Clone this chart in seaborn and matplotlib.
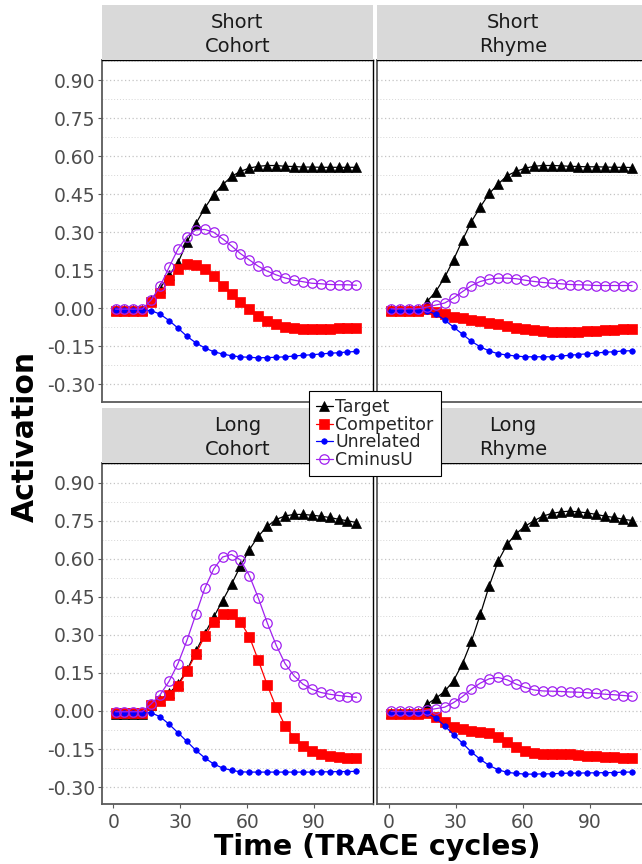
import matplotlib
matplotlib.use("Agg")
import matplotlib.pyplot as plt
import seaborn as sns
import pandas as pd
from matplotlib.ticker import MultipleLocator, FixedLocator, FormatStrFormatter
from matplotlib.lines import Line2D

# ---------------- data ----------------
time = [1, 5, 9, 13, 17, 21, 25, 29, 33, 37, 41, 45, 49, 53,
        57, 61, 65, 69, 73, 77, 81, 85, 89, 93, 97, 101, 105, 109]

panels = ["Short\nCohort", "Short\nRhyme", "Long\nCohort", "Long\nRhyme"]
series = ["Target", "Competitor", "Unrelated", "CminusU"]

short_cohort_target = [-0.008, -0.008, -0.008, -0.008, 0.033, 0.08, 0.13, 0.18, 0.26, 0.334,
                       0.395, 0.448, 0.487, 0.52, 0.54, 0.553, 0.56, 0.563, 0.563, 0.56,
                       0.559, 0.557, 0.557, 0.556, 0.556, 0.556, 0.556, 0.556]
short_cohort_competitor = [-0.01, -0.01, -0.01, -0.01, 0.024, 0.062, 0.11, 0.155, 0.175, 0.17,
                           0.155, 0.126, 0.09, 0.058, 0.024, -0.004, -0.029, -0.049, -0.062, -0.072,
                           -0.079, -0.083, -0.083, -0.083, -0.083, -0.079, -0.079, -0.079]
short_cohort_unrelated = [-0.007, -0.007, -0.007, -0.007, -0.009, -0.023, -0.048, -0.078, -0.11, -0.136,
                          -0.156, -0.171, -0.18, -0.187, -0.191, -0.193, -0.195, -0.194, -0.193, -0.191,
                          -0.188, -0.185, -0.183, -0.18, -0.177, -0.175, -0.172, -0.17]
short_cohort_cminusu = [-0.003, -0.003, -0.003, -0.003, 0.033, 0.087, 0.162, 0.234, 0.283, 0.309,
                        0.311, 0.3, 0.274, 0.246, 0.216, 0.191, 0.166, 0.147, 0.132, 0.12,
                        0.111, 0.105, 0.099, 0.097, 0.094, 0.093, 0.093, 0.091]

short_rhyme_target = [-0.008, -0.008, -0.008, -0.008, 0.026, 0.066, 0.122, 0.192, 0.269, 0.342,
                      0.4, 0.453, 0.49, 0.523, 0.54, 0.552, 0.56, 0.563, 0.563, 0.562,
                      0.56, 0.559, 0.558, 0.558, 0.557, 0.556, 0.556, 0.555]
short_rhyme_competitor = [-0.01, -0.01, -0.01, -0.01, -0.003, -0.013, -0.024, -0.034, -0.037, -0.046,
                          -0.05, -0.057, -0.062, -0.069, -0.077, -0.082, -0.085, -0.089, -0.093, -0.093,
                          -0.093, -0.093, -0.089, -0.089, -0.085, -0.085, -0.081, -0.081]
short_rhyme_unrelated = [-0.009, -0.009, -0.009, -0.009, -0.009, -0.023, -0.046, -0.074, -0.102, -0.13,
                         -0.152, -0.168, -0.179, -0.184, -0.188, -0.191, -0.191, -0.191, -0.191, -0.188,
                         -0.185, -0.182, -0.179, -0.176, -0.173, -0.171, -0.168, -0.167]
short_rhyme_cminusu = [-0.002, -0.002, -0.002, -0.002, 0.005, 0.013, 0.021, 0.041, 0.066, 0.09,
                       0.106, 0.115, 0.119, 0.119, 0.117, 0.111, 0.106, 0.102, 0.099, 0.097,
                       0.094, 0.093, 0.092, 0.09, 0.09, 0.09, 0.09, 0.09]

long_cohort_target = [-0.01, -0.01, -0.01, -0.01, 0.025, 0.045, 0.07, 0.105, 0.16, 0.235,
                      0.305, 0.37, 0.435, 0.5, 0.571, 0.636, 0.689, 0.728, 0.755, 0.769,
                      0.775, 0.775, 0.772, 0.768, 0.763, 0.756, 0.75, 0.743]
long_cohort_competitor = [-0.009, -0.009, -0.009, -0.009, 0.024, 0.041, 0.064, 0.099, 0.156, 0.225,
                          0.295, 0.352, 0.384, 0.384, 0.352, 0.293, 0.2, 0.103, 0.015, -0.058,
                          -0.105, -0.138, -0.156, -0.168, -0.177, -0.181, -0.185, -0.185]
long_cohort_unrelated = [-0.007, -0.007, -0.007, -0.007, -0.007, -0.023, -0.052, -0.086, -0.12, -0.155,
                         -0.185, -0.209, -0.225, -0.234, -0.24, -0.241, -0.241, -0.241, -0.241, -0.241,
                         -0.241, -0.241, -0.241, -0.24, -0.24, -0.239, -0.239, -0.238]
long_cohort_cminusu = [-0.003, -0.003, -0.003, -0.003, 0.028, 0.064, 0.117, 0.187, 0.278, 0.381,
                       0.483, 0.56, 0.607, 0.617, 0.596, 0.534, 0.446, 0.348, 0.26, 0.187,
                       0.139, 0.106, 0.086, 0.073, 0.066, 0.061, 0.057, 0.054]

long_rhyme_target = [-0.009, -0.009, -0.009, -0.009, 0.026, 0.05, 0.077, 0.12, 0.187, 0.275,
                     0.381, 0.494, 0.591, 0.657, 0.699, 0.728, 0.75, 0.768, 0.779, 0.785,
                     0.788, 0.785, 0.781, 0.775, 0.768, 0.763, 0.756, 0.751]
long_rhyme_competitor = [-0.012, -0.012, -0.012, -0.012, -0.007, -0.023, -0.045, -0.062, -0.073, -0.078,
                         -0.082, -0.086, -0.101, -0.122, -0.143, -0.159, -0.166, -0.17, -0.17, -0.17,
                         -0.17, -0.173, -0.177, -0.177, -0.181, -0.181, -0.185, -0.185]
long_rhyme_unrelated = [-0.009, -0.009, -0.009, -0.009, -0.007, -0.028, -0.058, -0.094, -0.127, -0.162,
                        -0.191, -0.215, -0.232, -0.242, -0.246, -0.249, -0.249, -0.248, -0.248, -0.246,
                        -0.245, -0.245, -0.244, -0.244, -0.243, -0.243, -0.241, -0.241]
long_rhyme_cminusu = [-0.002, -0.002, -0.002, -0.002, 0.003, 0.009, 0.015, 0.033, 0.057, 0.086,
                      0.11, 0.127, 0.132, 0.123, 0.106, 0.093, 0.083, 0.079, 0.078, 0.077,
                      0.075, 0.074, 0.072, 0.069, 0.066, 0.064, 0.061, 0.058]

panel_data = {
    "Short\nCohort": [short_cohort_target, short_cohort_competitor, short_cohort_unrelated, short_cohort_cminusu],
    "Short\nRhyme": [short_rhyme_target, short_rhyme_competitor, short_rhyme_unrelated, short_rhyme_cminusu],
    "Long\nCohort": [long_cohort_target, long_cohort_competitor, long_cohort_unrelated, long_cohort_cminusu],
    "Long\nRhyme": [long_rhyme_target, long_rhyme_competitor, long_rhyme_unrelated, long_rhyme_cminusu],
}

y_ticks = [-0.30, -0.15, 0.00, 0.15, 0.30, 0.45, 0.60, 0.75, 0.90]
x_ticks = [0, 30, 60, 90]

# ---------------- style ----------------
sns.set_theme(style="white")
plt.rcParams["font.family"] = ["DejaVu Sans"]

styles = {
    "Target": dict(color="black", marker="^", markersize=7.5, markerfacecolor="black",
                   markeredgecolor="black", markeredgewidth=0.5),
    "Competitor": dict(color="#FF0000", marker="s", markersize=6.5, markerfacecolor="#FF0000",
                       markeredgecolor="#FF0000", markeredgewidth=0.5),
    "Unrelated": dict(color="#0000FF", marker="o", markersize=4.0, markerfacecolor="#0000FF",
                      markeredgecolor="#0000FF", markeredgewidth=0.5),
    "CminusU": dict(color="#A020F0", marker="o", markersize=6.8, markerfacecolor="none",
                    markeredgecolor="#A020F0", markeredgewidth=0.9),
}

W, H = 642, 864
fig = plt.figure(figsize=(W / 100, H / 100), dpi=100)

def fx(px):
    return px / W

def fy(py):
    return 1 - py / H

lefts = [101.7, 377.3]
pw = 271.0
panel_rows = [(60.0, 401.7), (462.7, 804.3)]
strip_rows = [(5.0, 60.0), (408.3, 462.7)]

axes = []
for r in range(2):
    for c in range(2):
        name = panels[r * 2 + c]
        top, bot = panel_rows[r]
        ax = fig.add_axes([fx(lefts[c]), fy(bot), fx(pw), (bot - top) / H])
        axes.append(ax)
        ax.set_ylim(-0.368, 0.979)
        ax.set_xlim(-5.2, 116.3)
        ax.yaxis.set_major_locator(FixedLocator(y_ticks))
        ax.yaxis.set_minor_locator(MultipleLocator(0.075))
        ax.yaxis.set_major_formatter(FormatStrFormatter("%.2f"))
        ax.xaxis.set_major_locator(FixedLocator(x_ticks))
        ax.grid(axis="y", which="major", linestyle=(0, (1, 2)), linewidth=0.9, color="#c4c4c4")
        ax.grid(axis="y", which="minor", linestyle=(0, (1, 2)), linewidth=0.7, color="#d6d6d6")
        ax.grid(axis="x", visible=False)
        ax.set_axisbelow(True)

        for s_name, vals in zip(series, panel_data[name]):
            df = pd.DataFrame({"time": time, "value": vals})
            sns.lineplot(data=df, x="time", y="value", ax=ax, linewidth=0.9,
                         legend=False, **styles[s_name])

        ax.set_xlabel("")
        ax.set_ylabel("")
        for side in ["top", "right"]:
            ax.spines[side].set_color("black")
            ax.spines[side].set_linewidth(1.0)
        for side in ["left", "bottom"]:
            ax.spines[side].set_color("#5a5a5a")
            ax.spines[side].set_linewidth(1.3)

        ax.tick_params(axis="y", which="major", length=3, width=0.8, color="#5a5a5a",
                       labelsize=13.5, labelcolor="#4d4d4d", pad=1.5, left=(c == 0), labelleft=(c == 0))
        ax.tick_params(axis="y", which="minor", length=0)
        ax.tick_params(axis="x", which="major", length=3, width=0.8, color="#5a5a5a",
                       labelsize=13.5, labelcolor="#4d4d4d", pad=3.0,
                       bottom=(r == 1), labelbottom=(r == 1))

        # strip
        st, sb = strip_rows[r]
        sax = fig.add_axes([fx(lefts[c]), fy(sb), fx(pw), (sb - st) / H])
        sax.set_facecolor("#D9D9D9")
        for sp in sax.spines.values():
            sp.set_visible(False)
        sax.set_xticks([])
        sax.set_yticks([])
        sax.text(0.5, 0.46, name, ha="center", va="center", fontsize=14,
                 color="#1a1a1a", linespacing=1.3, transform=sax.transAxes)

# axis titles
fig.text(fx(377.5), fy(855), "Time (TRACE cycles)", ha="center", va="baseline",
         fontsize=20.5, fontweight="bold", color="black")
fig.text(fx(25), fy(436.5), "Activation", ha="center", va="center", rotation=90,
         fontsize=21.5, fontweight="bold", color="black")

# legend
handles = [Line2D([0], [0], linewidth=0.9, **styles[s]) for s in series]
leg = fig.legend(handles, series, loc="upper left",
                 bbox_to_anchor=(fx(309.3), fy(391.2)), frameon=True, fancybox=False,
                 edgecolor="black", framealpha=1, fontsize=12.5, handlelength=0.95,
                 handletextpad=0.15, labelspacing=-0.02, borderpad=0.4, borderaxespad=0)
leg.get_frame().set_linewidth(0.8)

fig.savefig("out.png", dpi=100)
